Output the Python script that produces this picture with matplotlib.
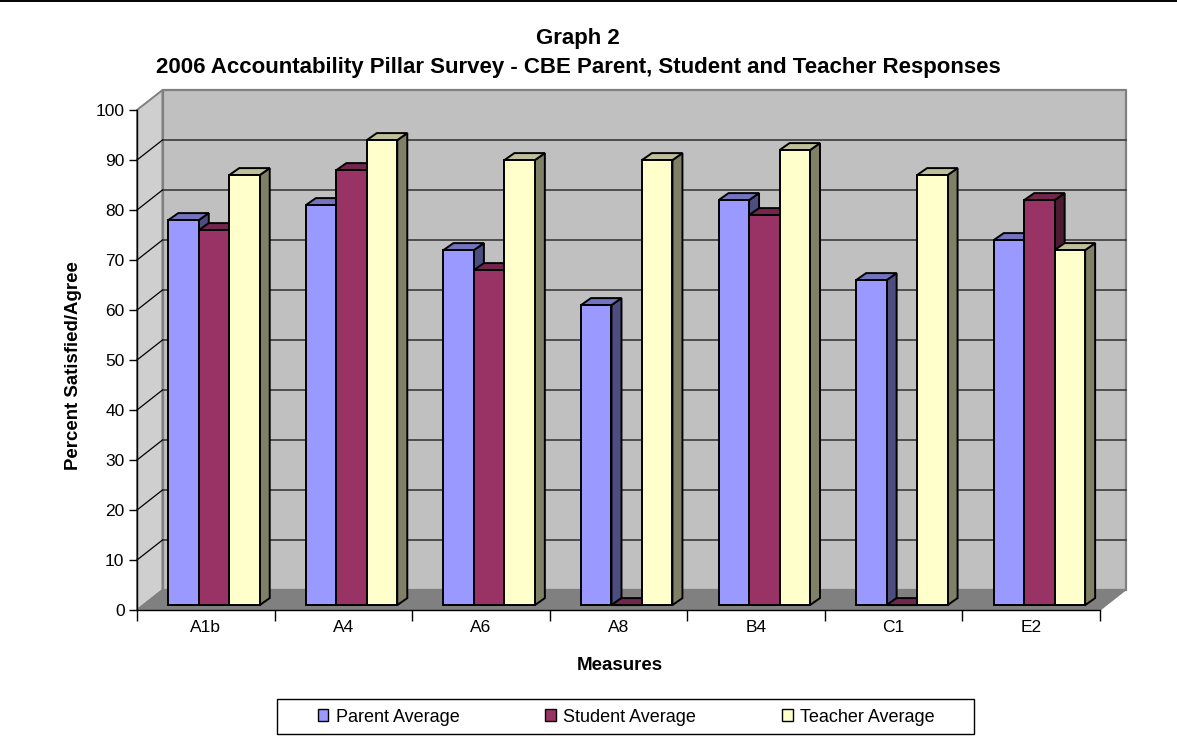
#!/usr/bin/python3

import matplotlib
matplotlib.use("Agg")
import matplotlib.pyplot as plt
from matplotlib.lines import Line2D
from matplotlib.patches import Patch, Polygon, Rectangle

plt.rcParams["font.family"] = ["Liberation Sans", "DejaVu Sans"]

#data
categories = ["A1b", "A4", "A6", "A8", "B4", "C1", "E2"]
parent = [77, 80, 71, 60, 81, 65, 73]
student = [75, 87, 67, 0, 78, 0, 81]
teacher = [86, 93, 89, 89, 91, 86, 71]
series_names = ["Parent Average", "Student Average", "Teacher Average"]
y_ticks = list(range(0, 101, 10))

title = "Graph 2\n2006 Accountability Pillar Survey - CBE Parent, Student and Teacher Responses"
xlabel = "Measures"
ylabel = "Percent Satisfied/Agree"

#figure size in pixels
W = 1177
H = 744

#front plane of the box in pixels
left = 137
right = 1100
top = 110
bottom = 610

#_____________________________________________________________________________
def main():

    fig = plt.figure(figsize=(W/100, H/100), dpi=100)
    ax = fig.add_axes([left/W, 1-bottom/H, (right-left)/W, (bottom-top)/H])
    ax.set_xlim(0, len(categories))
    ax.set_ylim(0, 100)
    ax.patch.set_visible(False)

    #data units per pixel
    xpix = len(categories)/(right-left)
    ypix = 100./(bottom-top)

    draw_walls(ax, 25.5*xpix, 20*ypix)

    cols = ["#9999ff", "#993366", "#ffffcc"]
    width = 0.2215
    start = 0.2275
    #base of the columns sits a bit above the front edge of the floor
    lift = 4.9*ypix
    ddx = 10*xpix
    ddy = 7*ypix

    values = [parent, student, teacher]
    for icat in range(len(categories)):
        for iser in range(3):
            x0 = icat + start + iser*width
            draw_column(ax, x0, width, lift, values[iser][icat], cols[iser], ddx, ddy)

    set_axes(ax)

    fig.text(578/W, 1-53/H, title, ha="center", va="center", fontsize=16,
             fontweight="bold", linespacing=1.45)
    fig.text(620/W, 1-666/H, xlabel, ha="center", va="center", fontsize=13.5, fontweight="bold")
    fig.text(73/W, 1-366/H, ylabel, ha="center", va="center", rotation=90, fontsize=13.4,
             fontweight="bold")

    #legend box is wider than its entries
    fig.add_artist(Rectangle((277/W, 1-734/H), 697/W, 35/H, transform=fig.transFigure,
                   facecolor="white", edgecolor="black", lw=1))
    handles = [Patch(facecolor=c, edgecolor="black", lw=1) for c in cols]
    fig.legend(handles, series_names, loc="center", bbox_to_anchor=(626/W, 1-717/H),
               ncol=3, frameon=False, fontsize=13, handlelength=0.6, handleheight=0.6,
               handletextpad=0.4, columnspacing=4.75, borderpad=0, borderaxespad=0)

    #line along the top of the page
    fig.add_artist(Line2D([0, 1], [1-0.5/H, 1-0.5/H], color="black", lw=1.4))

    fig.savefig("out.png", dpi=100)
    plt.close()

#main

#_____________________________________________________________________________
def draw_walls(ax, dx, dy):

    nx = len(categories)
    gray = "#808080"

    #side wall
    ax.add_patch(Polygon([(0, 0), (dx, dy), (dx, 100+dy), (0, 100)], closed=True,
                 facecolor="#cfcfcf", edgecolor=gray, lw=1.4, clip_on=False, zorder=1))
    #back wall
    ax.add_patch(Rectangle((dx, dy), nx, 100, facecolor="#c0c0c0", edgecolor=gray,
                 lw=1.6, clip_on=False, zorder=1))
    #floor
    ax.add_patch(Polygon([(0, 0), (dx, dy), (nx+dx, dy), (nx, 0)], closed=True,
                 facecolor=gray, edgecolor=gray, lw=1, clip_on=False, zorder=2))

    for v in y_ticks[1:-1]:
        ax.plot([dx, nx+dx], [v+dy, v+dy], "-", color="#3a3a3a", lw=1.2, clip_on=False, zorder=2)
        ax.plot([0, dx], [v, v+dy], "-", color="black", lw=0.9, clip_on=False, zorder=2)

#draw_walls

#_____________________________________________________________________________
def draw_column(ax, x0, w, y0, val, col, ddx, ddy):

    y1 = y0 + val

    #side, top and front faces, painted over whatever stands behind
    side = [(x0+w, y0), (x0+w+ddx, y0+ddy), (x0+w+ddx, y1+ddy), (x0+w, y1)]
    ctop = [(x0, y1), (x0+ddx, y1+ddy), (x0+w+ddx, y1+ddy), (x0+w, y1)]
    front = [(x0, y0), (x0, y1), (x0+w, y1), (x0+w, y0)]

    ax.add_patch(Polygon(side, closed=True, facecolor=shade(col, 0.5), edgecolor="black",
                 lw=1.4, clip_on=False, zorder=3, joinstyle="miter"))
    ax.add_patch(Polygon(ctop, closed=True, facecolor=shade(col, 0.75), edgecolor="black",
                 lw=1.4, clip_on=False, zorder=3, joinstyle="miter"))
    ax.add_patch(Polygon(front, closed=True, facecolor=col, edgecolor="black",
                 lw=1.4, clip_on=False, zorder=3, joinstyle="miter"))

#draw_column

#_____________________________________________________________________________
def shade(col, frac):

    rgb = matplotlib.colors.to_rgb(col)

    return tuple(c*frac for c in rgb)

#shade

#_____________________________________________________________________________
def set_axes(ax):

    for i in ["top", "right"]:
        ax.spines[i].set_visible(False)
    for i in ["bottom", "left"]:
        ax.spines[i].set_linewidth(1)
        ax.spines[i].set_zorder(2.5)

    ax.set_yticks(y_ticks)
    ax.tick_params(axis="y", length=6, width=1, labelsize=12.5, pad=3)

    #boundaries of the groups get the ticks, labels go between them
    nx = len(categories)
    ax.set_xticks(range(nx+1))
    ax.set_xticklabels([])
    ax.set_xticks([i+0.5 for i in range(nx)], categories, minor=True)
    ax.tick_params(axis="x", which="major", length=8, width=1)
    ax.tick_params(axis="x", which="minor", length=0, labelsize=12.5, pad=7)

#set_axes

#_____________________________________________________________________________
if __name__ == "__main__":

    main()
